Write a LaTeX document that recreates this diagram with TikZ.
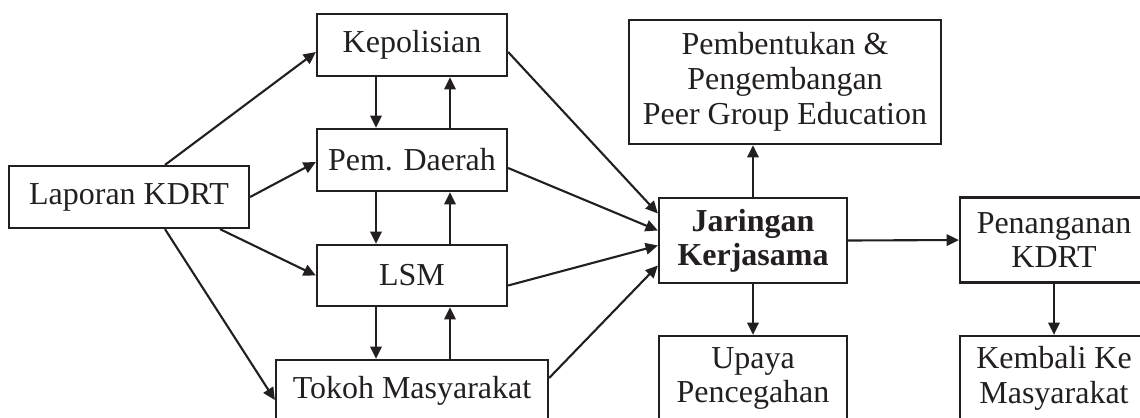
\documentclass[tikz,border=0pt]{standalone}
\usepackage{fontspec}
\setmainfont{Liberation Serif}
\usetikzlibrary{calc,positioning,arrows.meta}
\definecolor{ink}{HTML}{231F20}
\tikzset{
  box/.style={
    draw=ink,
    line width=1.3pt,
    text=ink,
    fill=white,
    inner sep=0pt,
    align=center,
    minimum height=1.24cm,
    font=\fontsize{18.2}{19.8}\selectfont
  },
  tallbox/.style={
    box,
    minimum width=3.76cm,
    minimum height=1.7cm
  },
  link/.style={
    draw=ink,
    line width=1.2pt,
    -{Triangle[length=7pt,width=6.5pt]}
  }
}

\begin{document}
\begin{tikzpicture}[x=0.02cm,y=-0.02cm]
  \path[use as bounding box,clip] (0,0) rectangle (1140,417);

  \node[box, minimum width=4.8cm] (lapor) at (129,197) {Laporan KDRT};
  \node[box, minimum width=3.8cm] (polisi) at (412,45) {Kepolisian};
  \node[box, minimum width=3.8cm] (pemda) at (412,160) {Pem. Daerah};
  \node[box, minimum width=3.8cm, minimum height=1.22cm] (lsm) at (412,275.5) {LSM};
  \node[box, minimum width=5.44cm] (tokoh) at (412,391) {Tokoh Masyarakat};

  \node[tallbox, font=\bfseries\fontsize{18.2}{19.4}\selectfont] (jaringan) at (753,240.5)
    {Jaringan\\Kerjasama};
  \node[box, minimum width=6.24cm, minimum height=2.48cm] (peer) at (785,82)
    {Pembentukan \&\\Pengembangan\\Peer Group Education};
  \node[tallbox] (tangan) at (1054,240) {Penanganan\\KDRT};
  \node[tallbox] (upaya) at (753,378.5) {Upaya\\Pencegahan};
  \node[tallbox] (kembali) at (1054,378.5) {Kembali Ke\\Masyarakat};

  \draw[link] ($(lapor.north)+(36,0)$) -- ($(polisi.west)+(0,7)$);
  \draw[link] (lapor.east) -- ($(pemda.west)+(0,2)$);
  \draw[link] ($(lapor.south)+(91,0)$) -- (lsm.west);
  \draw[link] ($(lapor.south)+(36,0)$) -- ($(tokoh.west)+(0,9)$);

  \draw[link] ($(polisi.south)+(-36,0)$) -- ($(pemda.north)+(-36,0)$);
  \draw[link] ($(pemda.north)+(38,0)$) -- ($(polisi.south)+(38,0)$);
  \draw[link] ($(pemda.south)+(-36,0)$) -- ($(lsm.north)+(-36,0)$);
  \draw[link] ($(lsm.north)+(38,0)$) -- ($(pemda.south)+(38,0)$);
  \draw[link] ($(lsm.south)+(-36,0)$) -- ($(tokoh.north)+(-36,0)$);
  \draw[link] ($(tokoh.north)+(38,0)$) -- ($(lsm.south)+(38,0)$);

  \draw[link] ($(polisi.east)+(0,7)$) -- ($(jaringan.west)+(0,-27)$);
  \draw[link] ($(pemda.east)+(0,8)$) -- ($(jaringan.west)+(0,-10)$);
  \draw[link] ($(lsm.east)+(0,10)$) -- ($(jaringan.west)+(0,5)$);
  \draw[link] ($(tokoh.east)+(0,-13)$) -- ($(jaringan.west)+(0,25)$);

  \draw[link] (jaringan.north) -- (jaringan.north |- peer.south);
  \draw[link] (jaringan.south) -- (upaya.north);
  \draw[link] (jaringan.east) -- (tangan.west);
  \draw[link] (tangan.south) -- (kembali.north);
\end{tikzpicture}
\end{document}
